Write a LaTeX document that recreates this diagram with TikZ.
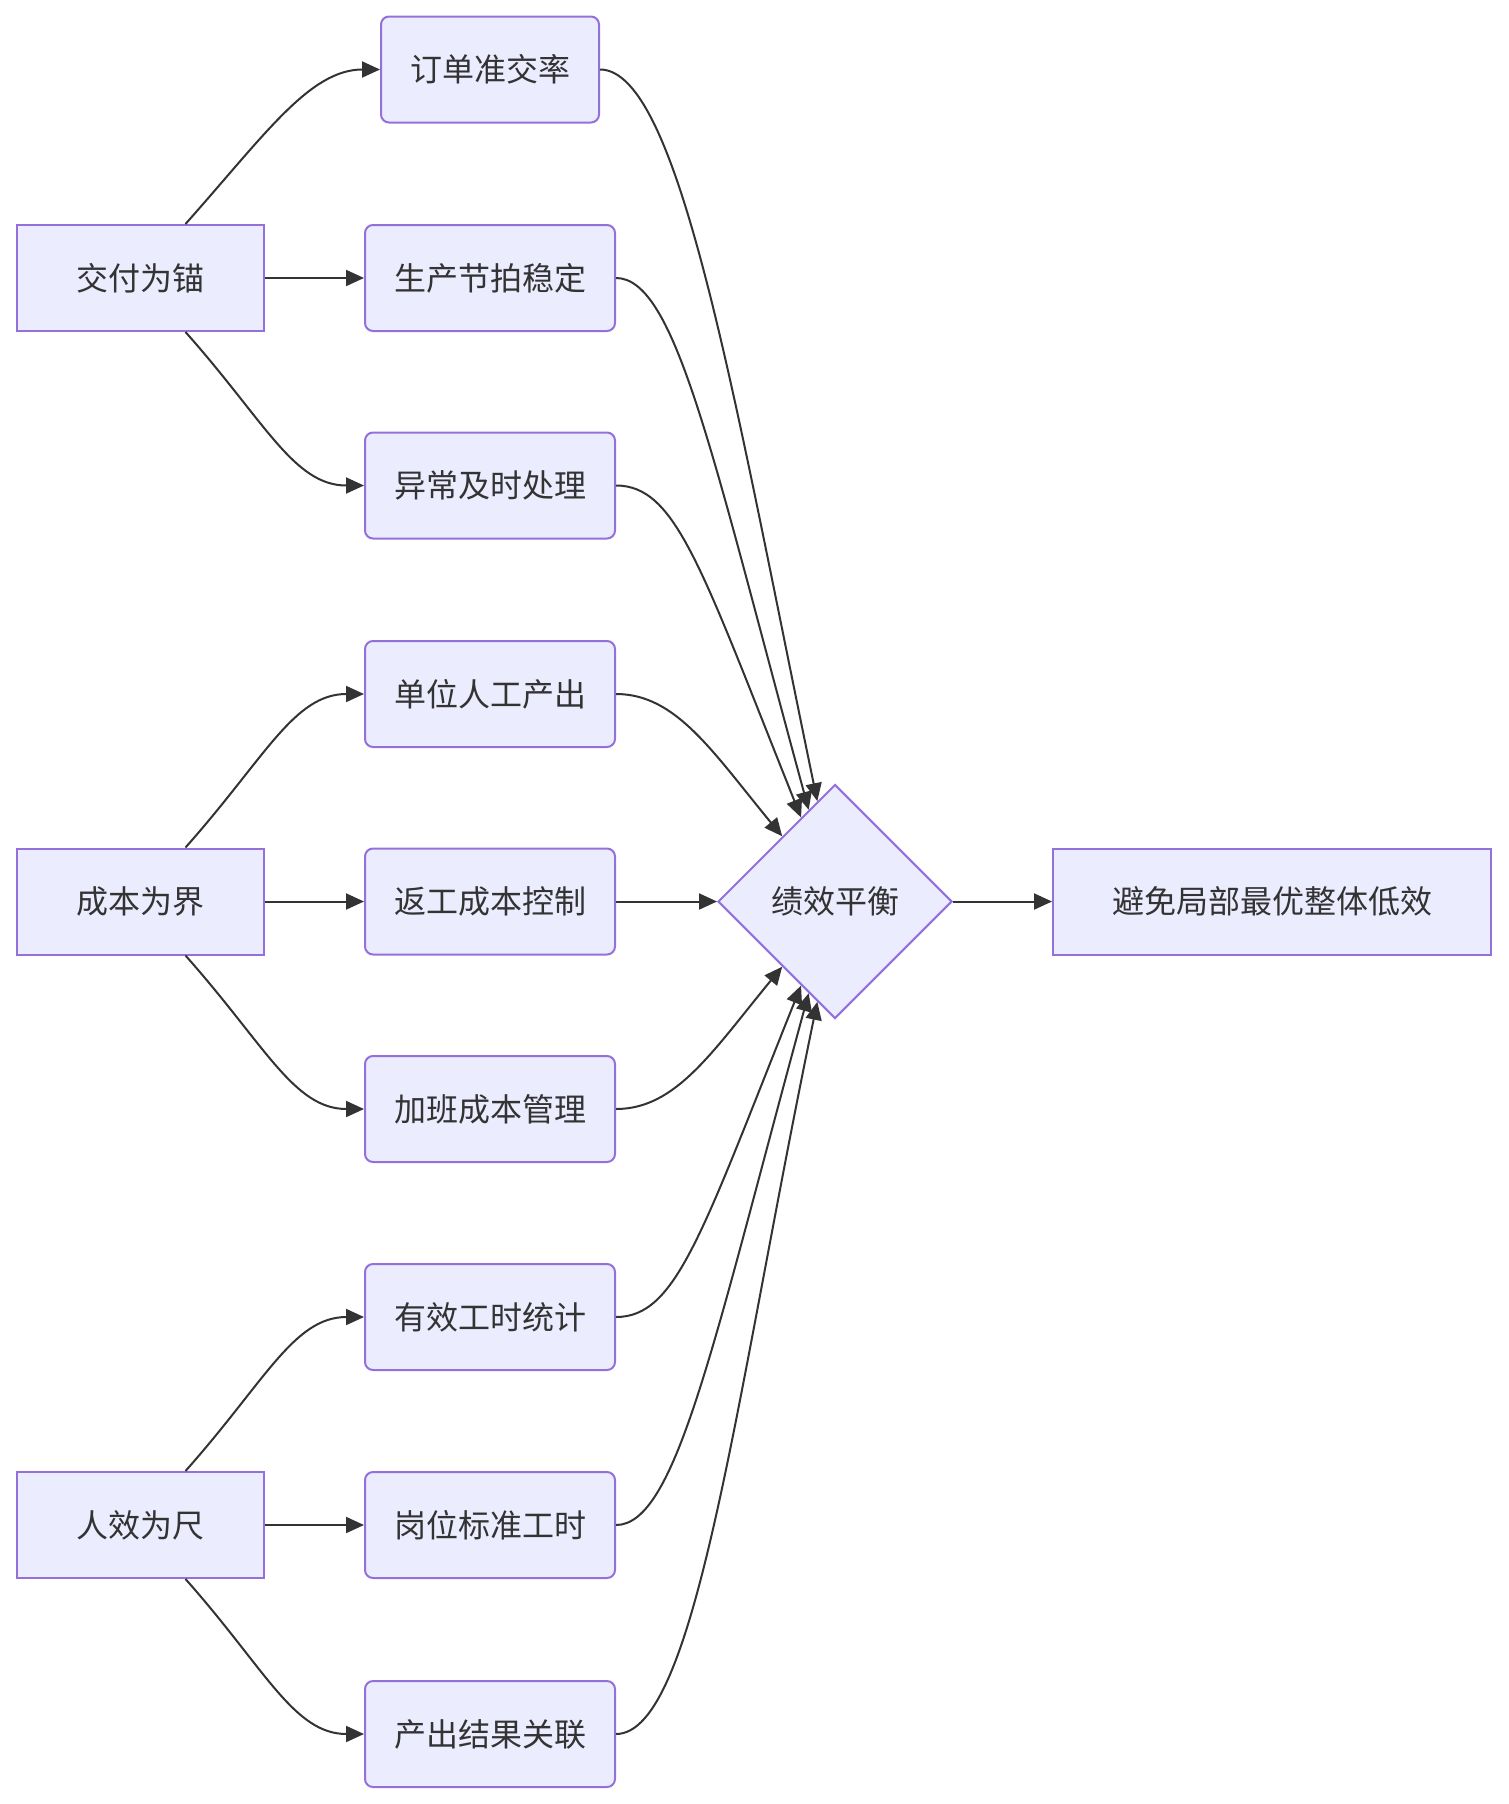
\documentclass[tikz,border=0pt]{standalone}
\usepackage{fontspec}
\newfontfamily\cjk{Noto Sans CJK SC}
\usepackage{tikz}
\usetikzlibrary{arrows.meta, shapes.geometric}

\definecolor{boxfill}{HTML}{ECECFF}
\definecolor{boxline}{HTML}{9370DB}
\definecolor{ink}{HTML}{333333}

\begin{document}
\begin{tikzpicture}[x=1pt, y=-1pt,
  base/.style={draw=boxline, fill=boxfill, line width=2pt, text=ink,
    font=\cjk\fontsize{32}{38}\selectfont, minimum height=106pt, inner xsep=29pt},
  pillar/.style={base, minimum width=247pt},
  metric/.style={base, rounded corners=8pt},
  judge/.style={base, diamond, minimum width=234pt, minimum height=234pt, inner sep=0pt},
  goal/.style={base, minimum width=438pt},
  link/.style={draw=ink, line width=2pt, -{Triangle[length=18pt, width=16pt]}}]

  \useasboundingbox (0,0) rectangle (1508,1804);

  % three pillars
  \node[pillar] (jf) at (140.5,278) {交付为锚};
  \node[pillar] (cb) at (140.5,901.5) {成本为界};
  \node[pillar] (rx) at (140.5,1525) {人效为尺};

  % delivery metrics
  \node[metric] (jf1) at (490,69.5) {订单准交率};
  \node[metric] (jf2) at (490,278) {生产节拍稳定};
  \node[metric] (jf3) at (490,485.5) {异常及时处理};

  % cost metrics
  \node[metric] (cb1) at (490,694) {单位人工产出};
  \node[metric] (cb2) at (490,901.5) {返工成本控制};
  \node[metric] (cb3) at (490,1109) {加班成本管理};

  % efficiency metrics
  \node[metric] (rx1) at (490,1317) {有效工时统计};
  \node[metric] (rx2) at (490,1525) {岗位标准工时};
  \node[metric] (rx3) at (490,1734) {产出结果关联};

  % balance and result
  \node[judge] (bal) at (835,901.5) {绩效平衡};
  \node[goal] (res) at (1272,901.5) {避免局部最优整体低效};

  % pillar to metric
  \draw[link] ([xshift=45pt]jf.north) .. controls +(80,-90) and +(-70,0) .. (jf1.west);
  \draw[link] (jf.east) -- (jf2.west);
  \draw[link] ([xshift=45pt]jf.south) .. controls +(80,90) and +(-70,0) .. (jf3.west);

  \draw[link] ([xshift=45pt]cb.north) .. controls +(80,-90) and +(-70,0) .. (cb1.west);
  \draw[link] (cb.east) -- (cb2.west);
  \draw[link] ([xshift=45pt]cb.south) .. controls +(80,90) and +(-70,0) .. (cb3.west);

  \draw[link] ([xshift=45pt]rx.north) .. controls +(80,-90) and +(-70,0) .. (rx1.west);
  \draw[link] (rx.east) -- (rx2.west);
  \draw[link] ([xshift=45pt]rx.south) .. controls +(80,90) and +(-70,0) .. (rx3.west);

  % metric to balance
  \draw[link] (jf1.east) .. controls +(80,0) and +(-82,-395) .. (bal.100);
  \draw[link] (jf2.east) .. controls +(60,0) and +(-96,-352) .. (bal.106);
  \draw[link] (jf3.east) .. controls +(60,0) and +(-100,-250) .. (bal.112);
  \draw[link] (cb1.east) .. controls +(60,0) and +(-70,-85) .. (bal.129);
  \draw[link] (cb2.east) -- (bal.west);
  \draw[link] (cb3.east) .. controls +(60,0) and +(-70,85) .. (bal.231);
  \draw[link] (rx1.east) .. controls +(60,0) and +(-100,250) .. (bal.248);
  \draw[link] (rx2.east) .. controls +(60,0) and +(-96,352) .. (bal.254);
  \draw[link] (rx3.east) .. controls +(80,0) and +(-82,395) .. (bal.260);

  \draw[link] (bal.east) -- (res.west);

\end{tikzpicture}
\end{document}
